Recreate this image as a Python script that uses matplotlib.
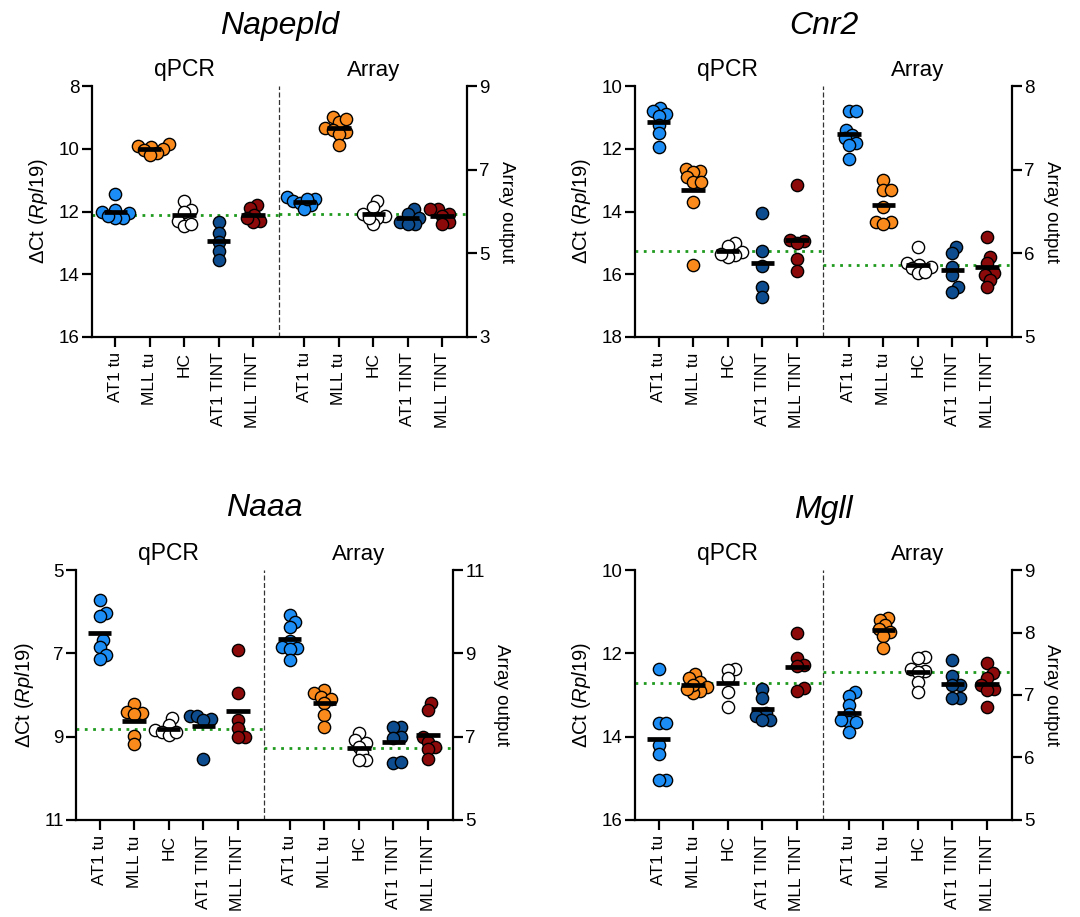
import matplotlib.pyplot as plt
import numpy as np

plt.rcParams['font.family'] = ['Liberation Sans', 'DejaVu Sans']
plt.rcParams['mathtext.fontset'] = 'custom'
plt.rcParams['mathtext.rm'] = 'Liberation Sans'
plt.rcParams['mathtext.it'] = 'Liberation Sans:italic'

groups = ['AT1 tu', 'MLL tu', 'HC', 'AT1 TINT', 'MLL TINT']
colors = ['#1C8DF5', '#FA8A1C', '#FFFFFF', '#0D4C8E', '#8C0A0A']

# Napepld
napepld_qpcr = [
    [11.45, 11.95, 12.0, 12.05, 12.2, 12.2, 12.15],
    [9.85, 9.9, 9.95, 10.0, 10.05, 10.15, 10.2],
    [11.65, 11.95, 12.0, 12.3, 12.45, 12.4],
    [12.33, 12.67, 12.97, 13.25, 13.53],
    [11.8, 11.9, 12.1, 12.3, 12.35, 12.2],
]
napepld_array = [
    [6.3, 6.35, 6.25, 6.2, 6.15, 6.05, 6.3],
    [8.25, 8.15, 8.2, 8.0, 7.95, 7.9, 7.85, 7.6],
    [6.25, 6.1, 5.95, 5.9, 5.85, 5.7, 5.85],
    [6.05, 5.95, 5.85, 5.75, 5.7, 5.7],
    [6.05, 6.05, 5.95, 5.9, 5.75, 5.7],
]

# Cnr2
cnr2_qpcr = [
    [10.7, 10.8, 10.9, 10.95, 11.25, 11.5, 11.95],
    [12.65, 12.7, 12.75, 12.9, 13.05, 13.05, 13.7, 15.7],
    [15.0, 15.1, 15.3, 15.4, 15.45, 15.35],
    [14.05, 15.25, 15.75, 16.4, 16.72],
    [13.15, 14.9, 14.95, 15.0, 15.5, 15.9],
]
cnr2_array = [
    [7.7, 7.7, 7.48, 7.42, 7.38, 7.32, 7.3, 7.13],
    [6.88, 6.76, 6.76, 6.55, 6.37, 6.37, 6.35],
    [6.08, 5.88, 5.86, 5.84, 5.82, 5.76, 5.78],
    [6.08, 6.0, 5.84, 5.74, 5.6, 5.54],
    [6.2, 5.96, 5.88, 5.76, 5.74, 5.68, 5.6],
]

# Naaa
naaa_qpcr = [
    [5.72, 6.02, 6.1, 6.68, 6.84, 7.04, 7.14],
    [8.22, 8.42, 8.44, 8.46, 8.98, 9.18],
    [8.56, 8.72, 8.84, 8.88, 8.96, 8.9],
    [8.5, 8.5, 8.58, 8.6, 9.54],
    [6.92, 7.96, 8.6, 8.8, 9.0, 9.0],
]
naaa_array = [
    [9.92, 9.76, 9.64, 9.3, 9.14, 9.12, 9.1, 8.84],
    [8.12, 8.04, 7.96, 7.9, 7.8, 7.52, 7.24],
    [7.08, 6.92, 6.84, 6.76, 6.6, 6.44, 6.44],
    [7.24, 7.22, 7.0, 6.96, 6.36, 6.38],
    [7.8, 7.64, 7.0, 6.88, 6.76, 6.7, 6.46],
]

# Mgll
mgll_qpcr = [
    [12.38, 13.68, 13.68, 14.2, 14.42, 15.04, 15.04],
    [12.5, 12.6, 12.7, 12.8, 12.9, 12.95, 12.75, 12.85],
    [12.38, 12.4, 12.6, 12.92, 13.28],
    [12.86, 13.08, 13.44, 13.5, 13.6, 13.6],
    [11.52, 12.12, 12.28, 12.3, 12.84, 12.9],
]
mgll_array = [
    [7.05, 6.98, 6.84, 6.7, 6.57, 6.57, 6.4, 6.6],
    [8.23, 8.2, 8.12, 8.05, 8.01, 7.95, 7.75],
    [7.61, 7.59, 7.42, 7.38, 7.36, 7.2, 7.05],
    [7.56, 7.3, 7.16, 7.16, 6.95, 6.95],
    [7.51, 7.35, 7.27, 7.16, 7.1, 7.08, 6.81],
]

qpcr_pos = np.arange(5)
array_pos = np.arange(5) + 5.5
sep = 4.75
xlim = (-0.68, 10.22)
green = '#1E9A1E'
msize = 78
diam = 7.5  # px, spacing used to spread the points sideways


def swarm_x(ax, x0, vals):
    tr = ax.transData
    ys = tr.transform(np.column_stack([np.full(len(vals), x0), vals]))[:, 1]
    xunit = tr.transform((1, 0))[0] - tr.transform((0, 0))[0]
    order = np.argsort(ys)
    placed = []
    xs = np.zeros(len(vals))
    for i in order:
        y = ys[i]
        cands = [0.0]
        for px, py in placed:
            dy = y - py
            if abs(dy) < diam:
                dx = np.sqrt(diam ** 2 - dy ** 2)
                cands += [px + dx, px - dx]
        cands.sort(key=abs)
        for c in cands:
            if all((c - px) ** 2 + (y - py) ** 2 >= diam ** 2 - 1e-6 for px, py in placed):
                xs[i] = c
                break
        placed.append((xs[i], y))
    return x0 + xs / xunit


def draw_group(ax, positions, data):
    for x0, vals, c in zip(positions, data, colors):
        xs = swarm_x(ax, x0, vals)
        ax.scatter(xs, vals, s=msize, c=c, edgecolors='black', linewidths=1.0, zorder=3, clip_on=False)
        ax.plot([x0 - 0.34, x0 + 0.34], [np.mean(vals)] * 2, color='black', lw=3.4,
                solid_capstyle='butt', zorder=4)


def panel(fig, rect, title, title_y, qpcr, array, llim, lticks, rlim, rticks):
    ax = fig.add_axes(rect)
    ax2 = ax.twinx()
    ax.set_xlim(*xlim)
    ax.set_ylim(*llim)
    ax2.set_ylim(*rlim)
    ax.set_yticks(lticks)
    ax2.set_yticks(rticks)

    for a in (ax, ax2):
        a.spines['top'].set_visible(False)
        for s in a.spines.values():
            s.set_linewidth(1.6)
        a.tick_params(width=1.6, length=7, labelsize=13.5, pad=2)
    ax.tick_params(axis='x', labelsize=12.5, pad=4)
    ax.spines['right'].set_visible(False)
    ax2.spines['left'].set_visible(False)
    ax2.spines['bottom'].set_visible(False)

    ax.set_xticks(list(qpcr_pos) + list(array_pos))
    ax.set_xticklabels(groups + groups, rotation=90)

    ax.axvline(sep, color='#333333', lw=0.9, ls=(0, (4, 2)), zorder=1)
    ax.plot([xlim[0], sep], [np.mean(qpcr[2])] * 2, color=green, lw=2, ls=(0, (1, 2)), zorder=2)
    ax2.plot([sep, xlim[1]], [np.mean(array[2])] * 2, color=green, lw=2, ls=(0, (1, 2)), zorder=2)

    draw_group(ax, qpcr_pos, qpcr)
    draw_group(ax2, array_pos, array)

    ax.set_ylabel(r'ΔCt ($\mathit{Rpl19}$)', fontsize=14.5, labelpad=6)
    ax2.set_ylabel('Array output', fontsize=13.5, rotation=270, labelpad=18)

    ax.text(np.mean(qpcr_pos), 1.02, 'qPCR', transform=ax.get_xaxis_transform(),
            ha='center', va='bottom', fontsize=16.5)
    ax.text(np.mean(array_pos), 1.02, 'Array', transform=ax.get_xaxis_transform(),
            ha='center', va='bottom', fontsize=16)
    fig.text(rect[0] + rect[2] / 2, title_y, title, ha='center', va='center',
             fontsize=23, style='italic')


fig = plt.figure(figsize=(10.8, 9.17), dpi=100)

panel(fig, [0.0852, 0.6325, 0.347, 0.2737], 'Napepld', 0.972,
      napepld_qpcr, napepld_array, (16, 8), [8, 10, 12, 14, 16], (3, 9), [3, 5, 7, 9])
panel(fig, [0.588, 0.6325, 0.349, 0.2737], 'Cnr2', 0.972,
      cnr2_qpcr, cnr2_array, (18, 10), [10, 12, 14, 16, 18], (5, 8), [5, 6, 7, 8])
panel(fig, [0.0704, 0.1058, 0.349, 0.2726], 'Naaa', 0.446,
      naaa_qpcr, naaa_array, (11, 5), [5, 7, 9, 11], (5, 11), [5, 7, 9, 11])
panel(fig, [0.588, 0.1058, 0.349, 0.2726], 'Mgll', 0.444,
      mgll_qpcr, mgll_array, (16, 10), [10, 12, 14, 16], (5, 9), [5, 6, 7, 8, 9])

fig.savefig('out.png', dpi=100)
